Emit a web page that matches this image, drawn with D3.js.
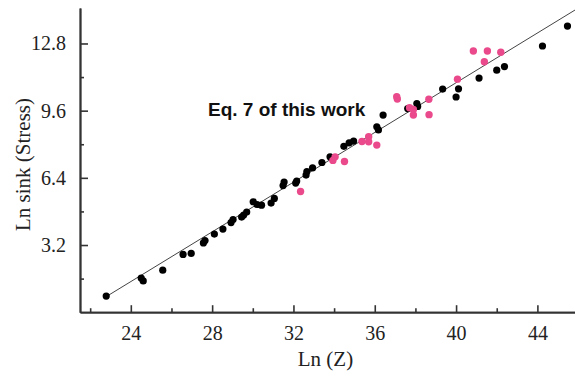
<!DOCTYPE html>
<html>
<head>
<meta charset="utf-8">
<script src="https://cdn.jsdelivr.net/npm/d3@7"></script>
<style>
  html, body { margin: 0; padding: 0; background: #fff; }
  svg { display: block; }
</style>
</head>
<body>
<script>
// Ln(Z) vs Ln sink (Stress): literature data (black) and Eq. 7 values (pink)
const blackX = [22.79, 24.51, 24.61, 25.57, 26.57, 26.97, 27.57, 27.65, 28.11, 28.53,
                28.93, 29.03, 29.45, 29.55, 29.70, 30.02, 30.21, 30.43, 30.90, 31.06,
                31.49, 31.54, 32.11, 32.16, 32.62, 32.66, 32.94, 33.40, 33.80, 34.48,
                34.74, 34.96, 36.10, 36.18, 36.41, 37.62, 38.07, 38.11, 39.34, 40.00,
                40.12, 41.13, 42.00, 42.38, 44.25, 45.48];
const blackY = [0.77, 1.63, 1.49, 2.00, 2.75, 2.80, 3.30, 3.41, 3.72, 3.96,
                4.27, 4.41, 4.53, 4.63, 4.77, 5.26, 5.13, 5.10, 5.20, 5.42,
                6.03, 6.20, 6.15, 6.25, 6.53, 6.70, 6.87, 7.13, 7.40, 7.90,
                8.07, 8.15, 8.83, 8.68, 9.39, 9.70, 9.94, 9.80, 10.63, 10.25,
                10.64, 11.15, 11.53, 11.70, 12.68, 13.63];
const pinkX = [32.35, 33.94, 34.05, 34.51, 35.37, 35.70, 35.70, 36.10, 37.08, 37.11,
               37.71, 37.90, 37.90, 38.66, 38.67, 40.07, 40.85, 41.54, 42.20, 41.39];
const pinkY = [5.75, 7.23, 7.40, 7.18, 8.13, 8.36, 8.12, 7.96, 10.26, 10.15,
               9.74, 9.66, 9.39, 10.14, 9.41, 11.10, 12.44, 12.44, 12.38, 11.93];

// Fitted line: y = slope * x + intercept over the plotted range
const fitSlope = 0.592;
const fitIntercept = -12.75;
const fitRange = [22.79, 45.85];

const xTicks = [24, 28, 32, 36, 40, 44];
const xMinorTicks = [22, 26, 30, 34, 38, 42];
const yTicks = [3.2, 6.4, 9.6, 12.8];
const yMinorTicks = [1.6, 4.8, 8.0, 11.2];

const xTitle = "Ln (Z)";
const yTitle = "Ln sink (Stress)";
const annotation = "Eq. 7 of this work";

const W = 575, H = 374;
const svg = d3.select("body").append("svg").attr("width", W).attr("height", H);

const x = d3.scaleLinear().domain([21.5, 45.85]).range([80, 575]);
const y = d3.scaleLinear().domain([0, 14.49]).range([312.2, 8]);

const axisColor = "#333";
const serif = "'Liberation Serif', 'Times New Roman', serif";

// fitted line
svg.append("line")
  .attr("x1", x(fitRange[0])).attr("y1", y(fitSlope * fitRange[0] + fitIntercept))
  .attr("x2", x(fitRange[1])).attr("y2", y(fitSlope * fitRange[1] + fitIntercept))
  .attr("stroke", "#444").attr("stroke-width", 1);

// points
const black = blackX.map((v, i) => [v, blackY[i]]);
const pink = pinkX.map((v, i) => [v, pinkY[i]]);

svg.append("g").selectAll("circle").data(black).join("circle")
  .attr("cx", d => x(d[0])).attr("cy", d => y(d[1])).attr("r", 3.6)
  .attr("fill", "#000");

svg.append("g").selectAll("circle").data(pink).join("circle")
  .attr("cx", d => x(d[0])).attr("cy", d => y(d[1])).attr("r", 3.7)
  .attr("fill", "#ea4a8b");

// axes: ticks point inward
const xAxis = d3.axisBottom(x).tickValues(xTicks).tickSizeInner(-7).tickSizeOuter(0)
  .tickPadding(14).tickFormat(d3.format("d"));
const xMinor = d3.axisBottom(x).tickValues(xMinorTicks).tickSizeInner(-4).tickSizeOuter(0)
  .tickFormat("");
const yAxis = d3.axisLeft(y).tickValues(yTicks).tickSizeInner(-8).tickSizeOuter(0)
  .tickPadding(14).tickFormat(d3.format(".1f"));
const yMinor = d3.axisLeft(y).tickValues(yMinorTicks).tickSizeInner(-4).tickSizeOuter(0)
  .tickFormat("");

function styleAxis(g) {
  g.select(".domain").attr("stroke", axisColor).attr("stroke-width", 1.8);
  g.selectAll(".tick line").attr("stroke", axisColor).attr("stroke-width", 1.6);
  g.selectAll(".tick text").attr("fill", "#222")
    .style("font-family", serif).style("font-size", "20px");
}

svg.append("g").attr("transform", `translate(0,${y(0)})`).call(xMinor).call(styleAxis);
svg.append("g").attr("transform", `translate(0,${y(0)})`).call(xAxis).call(styleAxis);
svg.append("g").attr("transform", `translate(${x(21.5)},0)`).call(yMinor).call(styleAxis);
svg.append("g").attr("transform", `translate(${x(21.5)},0)`).call(yAxis).call(styleAxis);

// axis titles
svg.append("text")
  .attr("x", 325.5).attr("y", 366)
  .attr("text-anchor", "middle")
  .style("font-family", serif).style("font-size", "21px").attr("fill", "#222")
  .text(xTitle);

svg.append("text")
  .attr("transform", "translate(29.5,164.5) rotate(-90)")
  .attr("text-anchor", "middle")
  .style("font-family", serif).style("font-size", "21px").attr("fill", "#222")
  .text(yTitle);

// annotation
svg.append("text")
  .attr("x", 208).attr("y", 115.5)
  .style("font-family", "'Liberation Sans', Arial, sans-serif")
  .style("font-size", "19px").style("font-weight", "bold").attr("fill", "#111")
  .text(annotation);
</script>
</body>
</html>
